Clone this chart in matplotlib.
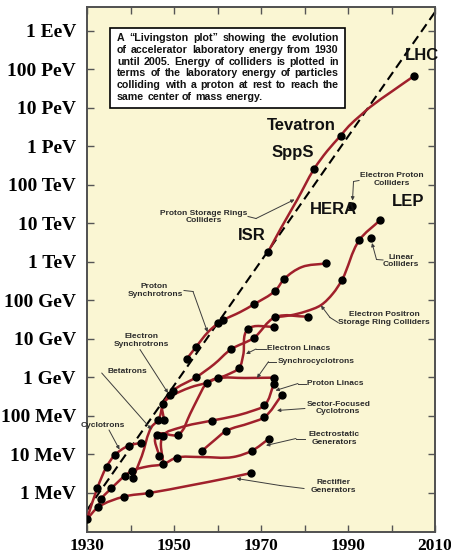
import matplotlib
matplotlib.use("Agg")
import numpy as np
import matplotlib.pyplot as plt
from matplotlib.path import Path
from matplotlib.patches import PathPatch, Rectangle, FancyArrowPatch
from matplotlib.lines import Line2D

# ---------------- data (year, laboratory energy in eV) ----------------
rect_yr = [1930.0, 1932.6, 1938.6, 1944.3, 1953.7, 1962.0, 1967.7]
rect_ev = [2.1e5, 4.3e5, 8.1e5, 1.0e6, 1.57e6, 2.4e6, 3.3e6]

estat_yr = [1932.6, 1933.3, 1935.6, 1938.7, 1940.4, 1944.0, 1947.5, 1950.6, 1956.0, 1963.6, 1968.0, 1971.9]
estat_ev = [4.3e5, 7.0e5, 1.32e6, 2.8e6, 3.8e6, 4.9e6, 5.6e6, 8.3e6, 8.6e6, 8.6e6, 1.27e7, 2.6e7]

cyclo_yr = [1930.0, 1932.4, 1934.5, 1936.4, 1939.6, 1942.3]
cyclo_ev = [2.1e5, 1.37e6, 4.8e6, 9.7e6, 1.7e7, 2.0e7]

beta_yr = [1940.6, 1942.6, 1944.9, 1946.4, 1947.4]
beta_ev = [2.5e6, 9.1e6, 5.3e7, 7.9e7, 2.0e8]

synchro_yr = [1947.7, 1947.4, 1949.1, 1953.7, 1957.7, 1960.0, 1966.3, 1973.0]
synchro_ev = [7.9e7, 2.0e8, 3.1e8, 5.5e8, 7.4e8, 9.5e8, 9.7e8, 9.9e8]

plinac_yr = [1947.5, 1947.5, 1951.4, 1958.7, 1964.0, 1967.5, 1970.8, 1973.0]
plinac_ev = [5.6e6, 3.1e7, 5.0e7, 7.6e7, 1.0e8, 1.3e8, 1.9e8, 6.9e8]

elinac_yr = [1946.6, 1946.0, 1951.0, 1953.7, 1955.5, 1957.7, 1962.1, 1965.0, 1965.9, 1967.0, 1972.9]
elinac_ev = [8.9e6, 3.2e7, 3.3e7, 1.13e8, 2.9e8, 7.4e8, 1.16e9, 1.8e9, 3.8e9, 1.8e10, 2.1e10]

esync_yr = [1947.4, 1949.7, 1955.0, 1959.2, 1963.1, 1968.3, 1973.3, 1980.7]
esync_ev = [2.0e8, 4.5e8, 1.0e9, 2.2e9, 5.4e9, 1.06e10, 3.7e10, 3.8e10]

sfc_yr = [1956.4, 1959.4, 1962.0, 1967.5, 1970.8, 1974.8]
sfc_ev = [1.23e7, 2.4e7, 4.1e7, 6.6e7, 9.4e7, 3.5e8]

psync_yr = [1952.9, 1955.1, 1957.8, 1960.2, 1961.3, 1965.2, 1968.4, 1973.3, 1975.4, 1979.4, 1985.0]
psync_ev = [3.0e9, 6.3e9, 1.5e10, 2.6e10, 3.1e10, 5.0e10, 8.0e10, 1.8e11, 3.7e11, 7.4e11, 9.2e11]

ee_yr = [1973.3, 1976.7, 1980.3, 1983.8, 1986.5, 1988.6, 1992.6, 1997.4]
ee_ev = [3.7e10, 4.1e10, 5.2e10, 7.6e10, 1.5e11, 3.4e11, 3.7e12, 1.23e13]

pcoll_yr = [1971.6, 1974.6, 1978.3, 1982.2, 1985.2, 1988.3, 1990.2, 1993.0, 1995.1, 2000.1, 2005.2]
pcoll_ev = [1.8e12, 7.6e12, 4.1e13, 2.6e14, 7.6e14, 1.9e15, 3.4e15, 6.6e15, 1.06e16, 2.7e16, 6.8e16]

dot_yr = [1930.0, 1932.6, 1933.3, 1932.4, 1935.6, 1938.6, 1944.3, 1938.7, 1940.6, 1940.4,
          1934.5, 1936.4, 1939.6, 1942.3, 1946.6, 1947.5, 1946.0, 1947.5, 1946.4, 1947.7,
          1947.4, 1949.7, 1949.0, 1951.0, 1952.9, 1955.1, 1955.0, 1957.7, 1960.0, 1958.7,
          1956.4, 1962.0, 1960.2, 1961.3, 1963.1, 1965.0, 1967.0, 1968.3, 1968.4, 1972.9,
          1973.3, 1980.7, 1973.3, 1975.4, 1985.0, 1973.0, 1973.0, 1970.8, 1974.8, 1970.8,
          1968.0, 1971.9, 1967.7, 1988.6, 1992.6, 1997.4, 1995.3, 1971.6, 1982.2, 1988.3,
          2005.2, 1990.9, 1950.6]
dot_ev = [2.1e5, 4.3e5, 7.0e5, 1.37e6, 1.32e6, 8.1e5, 1.0e6, 2.8e6, 2.5e6, 3.8e6,
          4.8e6, 9.7e6, 1.7e7, 2.0e7, 8.9e6, 5.6e6, 3.2e7, 3.1e7, 7.9e7, 7.9e7,
          2.0e8, 4.5e8, 3.5e8, 3.3e7, 3.0e9, 6.3e9, 1.0e9, 7.4e8, 9.5e8, 7.6e7,
          1.23e7, 4.1e7, 2.6e10, 3.1e10, 5.4e9, 1.8e9, 1.8e10, 1.06e10, 8.0e10, 2.1e10,
          3.7e10, 3.8e10, 1.8e11, 3.7e11, 9.2e11, 9.9e8, 6.9e8, 1.9e8, 3.5e8, 9.4e7,
          1.27e7, 2.6e7, 3.3e6, 3.4e11, 3.7e12, 1.23e13, 4.1e12, 1.8e12, 2.6e14, 1.9e15,
          6.8e16, 2.9e13, 8.3e6]

dash_yr = [1930, 2010]
dash_ev = [3.6e5, 3.1e18]

ytick_vals = [1e6, 1e7, 1e8, 1e9, 1e10, 1e11, 1e12, 1e13, 1e14, 1e15, 1e16, 1e17, 1e18]
ytick_labels = ["1 MeV", "10 MeV", "100 MeV", "1 GeV", "10 GeV", "100 GeV", "1 TeV",
                "10 TeV", "100 TeV", "1 PeV", "10 PeV", "100 PeV", "1 EeV"]
xtick_vals = [1930, 1940, 1950, 1960, 1970, 1980, 1990, 2000, 2010]
xtick_labels = ["1930", "", "1950", "", "1970", "", "1990", "", "2010"]

# ---------------- figure ----------------
W, H = 452, 557
fig = plt.figure(figsize=(W / 100, H / 100), dpi=100)
fig.patch.set_facecolor("white")
ax = fig.add_axes([87 / W, 25 / H, 348 / W, 525 / H])
ax.set_facecolor("#FAF6D3")
ax.set_yscale("log")
ax.set_xlim(1930, 2010)
ax.set_ylim(10 ** 4.987, 10 ** 18.623)

RED = "#A0202B"
SX, SY = 4.35, 38.5


def smooth_path(xs, ys):
    X = (np.asarray(xs, float) - 1930) * SX
    Y = np.log10(np.asarray(ys, float)) * SY
    P = np.column_stack([X, Y])
    n = len(P)
    T = np.zeros_like(P)
    for i in range(n):
        if i == 0:
            d = P[1] - P[0]
        elif i == n - 1:
            d = P[-1] - P[-2]
        else:
            a = P[i] - P[i - 1]
            b = P[i + 1] - P[i]
            d = a / np.hypot(*a) + b / np.hypot(*b)
        T[i] = d / np.hypot(*d)
    verts = [P[0]]
    codes = [Path.MOVETO]
    for i in range(n - 1):
        L = np.hypot(*(P[i + 1] - P[i])) / 3.0
        verts += [P[i] + T[i] * L, P[i + 1] - T[i + 1] * L, P[i + 1]]
        codes += [Path.CURVE4] * 3
    V = np.array(verts)
    return Path(np.column_stack([V[:, 0] / SX + 1930, 10 ** (V[:, 1] / SY)]), codes)


curves = [(rect_yr, rect_ev), (estat_yr, estat_ev), (cyclo_yr, cyclo_ev), (beta_yr, beta_ev),
          (synchro_yr, synchro_ev), (plinac_yr, plinac_ev), (elinac_yr, elinac_ev),
          (esync_yr, esync_ev), (sfc_yr, sfc_ev), (psync_yr, psync_ev), (ee_yr, ee_ev),
          (pcoll_yr, pcoll_ev)]
for xs, ys in curves:
    ax.add_patch(PathPatch(smooth_path(xs, ys), fill=False, edgecolor=RED, lw=1.8,
                           capstyle="round", joinstyle="round", zorder=3))

ax.plot(dash_yr, dash_ev, color="black", lw=1.5, ls=(0, (4.5, 2.5)), zorder=2)
ax.plot(dot_yr, dot_ev, "o", color="black", ms=5, mec="black", zorder=4)

# ticks
ax.set_yticks(ytick_vals)
ax.set_yticklabels(ytick_labels)
ax.set_xticks(xtick_vals)
ax.set_xticklabels(xtick_labels)
ax.minorticks_off()
ax.tick_params(direction="in", top=True, right=True, length=5, width=1, color="#555555")
ax.tick_params(axis="y", pad=8, labelsize=14)
ax.tick_params(axis="x", pad=4, labelsize=12.5)
for lab in ax.get_xticklabels() + ax.get_yticklabels():
    lab.set_fontfamily("Liberation Serif")
    lab.set_fontweight("bold")
for s in ax.spines.values():
    s.set_color("#505050")
    s.set_linewidth(1.4)


# ---------------- annotations (figure pixel coords) ----------------
def P(x, y):
    return (x / W, 1 - y / H)


def label(x, y, s, size=6.0, color="#2b2b2b", weight="bold", ha="center"):
    fig.text(*P(x, y), s, ha=ha, va="center", fontsize=size, color=color,
             fontweight=weight, family="Liberation Sans", zorder=10)


LC = "#3c3c3c"


def leader(pts):
    pts = list(pts)
    if len(pts) > 2:
        xs = [p[0] / W for p in pts[:-1]]
        ys = [1 - p[1] / H for p in pts[:-1]]
        fig.add_artist(Line2D(xs, ys, color=LC, lw=0.7, transform=fig.transFigure, zorder=9))
    fig.add_artist(FancyArrowPatch(
        P(*pts[-2]), P(*pts[-1]), transform=fig.transFigure, arrowstyle="-|>",
        mutation_scale=5, lw=0.7, color=LC, shrinkA=0, shrinkB=0, zorder=9))


label(103, 425.5, "Cyclotrons")
leader([(109, 430), (119.5, 449.5)])
label(127.5, 371.7, "Betatrons")
leader([(101.7, 373), (151.5, 429.5)])
label(141.5, 336.7, "Electron")
label(141.5, 345, "Synchrotrons")
leader([(140, 349.5), (168, 393)])
label(154.5, 286.7, "Proton")
label(155, 295, "Synchrotrons")
leader([(184, 290.5), (193, 291.5), (207.5, 332)])
label(203.5, 213.3, "Proton Storage Rings")
label(203.5, 220.8, "Colliders")
leader([(248, 216.5), (256, 218.5), (294.5, 199.5)])
label(392, 175.7, "Electron Proton")
label(392, 183.3, "Colliders")
leader([(359, 180.5), (353.5, 181.5), (352.5, 200.5)])
label(401, 257.3, "Linear")
label(401, 265, "Colliders")
leader([(383, 260), (376.5, 259.5), (372, 243)])
label(384, 315, "Electron Positron")
label(384, 322.7, "Storage Ring Colliders")
leader([(338, 322.5), (330, 317.5), (321, 305.5)])
label(298.8, 349, "Electron Linacs")
leader([(266, 349), (256, 349), (246, 354)])
label(316, 361.7, "Synchrocyclotrons")
leader([(276.5, 361.7), (268.5, 361.7), (257, 378)])
label(335.5, 383.3, "Proton Linacs")
leader([(306.5, 383.5), (298, 383.5), (275.5, 390.5)])
label(338.3, 404.3, "Sector-Focused")
label(338.3, 411.7, "Cyclotrons")
leader([(305, 408.5), (277, 410.5)])
label(334, 434, "Electrostatic")
label(334, 442, "Generators")
leader([(305, 438.5), (296, 438.5), (266, 445.5)])
label(333.3, 482.3, "Rectifier")
label(333.3, 490, "Generators")
leader([(304, 488.5), (280, 485.5), (236.5, 478.5)])

# big machine labels
for (x, y, s) in [(421.5, 55.7, "LHC"), (301.2, 126, "Tevatron"), (293, 152.7, "SppS"),
                  (333.7, 209.3, "HERA"), (407.7, 201, "LEP"), (251.3, 236, "ISR")]:
    fig.text(*P(x, y), s, ha="center", va="center", fontsize=12, fontweight="bold",
             family="Liberation Sans", color="#111111", zorder=10)

# text box
fig.add_artist(Rectangle(P(110, 108), (345 - 110) / W, (108 - 28) / H, transform=fig.transFigure,
                         facecolor="white", edgecolor="black", lw=1.2, zorder=8))
box_lines = ["A \u201cLivingston plot\u201d showing the evolution",
             "of accelerator laboratory energy from 1930",
             "until 2005. Energy of colliders is plotted in",
             "terms of the laboratory energy of particles",
             "colliding with a proton at rest to reach the",
             "same center of mass energy."]
renderer = fig.canvas.get_renderer()
left_px, right_px = 117.0, 338.5
for i, line in enumerate(box_lines):
    y = 38.3 + i * 11.7
    words = line.split(" ")
    texts = [fig.text(0, 0, w, ha="left", va="center", fontsize=7.7, fontweight="bold",
                      family="Liberation Sans", color="#111111", zorder=11) for w in words]
    widths = [t.get_window_extent(renderer).width for t in texts]
    if i == len(box_lines) - 1:
        gap = 3.0
    else:
        gap = max(2.0, (right_px - left_px - sum(widths)) / (len(words) - 1))
    x = left_px
    for t, w in zip(texts, widths):
        t.set_position(P(x, y))
        x += w + gap

fig.savefig("out.png", dpi=100)
